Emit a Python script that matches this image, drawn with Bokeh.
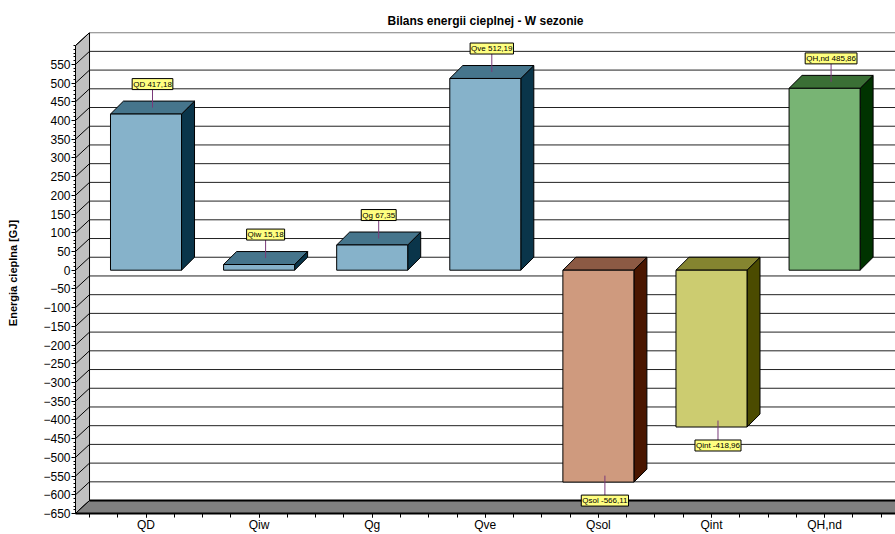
from bokeh.plotting import figure
from bokeh.models import FixedTicker, Label, Range1d, LinearAxis
from bokeh.embed import file_html
from bokeh.resources import INLINE

# ---------------- data ----------------
categories = ["QD", "Qiw", "Qg", "Qve", "Qsol", "Qint", "QH,nd"]
values = [417.18, 15.18, 67.35, 512.19, -566.11, -418.96, 485.86]
front_colors = ["#86b2ca", "#86b2ca", "#86b2ca", "#86b2ca", "#cf9a7e", "#cccc70", "#78b474"]
top_colors = ["#46758c", "#46758c", "#46758c", "#46758c", "#8c5a44", "#858530", "#3a6f35"]
side_colors = ["#0a354a", "#0a354a", "#0a354a", "#0a354a", "#4a1600", "#4b4b00", "#003300"]
y_ticks = list(range(-650, 551, 50))
y_lo, y_hi = -650, 600
title = "Bilans energii cieplnej - W sezonie"
y_title = "Energia cieplna [GJ]"

# ---------------- geometry (style) ----------------
X0, X1 = -0.6234, 6.627      # front plane extent (category units)
DX, DV = 0.124, 34.6         # wall depth offset
BX, BV = 0.115, 34.6         # bar depth offset
HW = 0.314                   # bar half width
FONT = "Liberation Sans"

p = figure(width=895, height=534, output_backend="svg", toolbar_location=None,
           x_range=Range1d(X0, X1), y_range=Range1d(-650, 635),
           min_border_left=75, min_border_right=0, min_border_top=32, min_border_bottom=19)
p.outline_line_color = None
p.xgrid.visible = False
p.ygrid.visible = False
p.background_fill_color = "white"
p.border_fill_color = "white"

p.title.text = title
p.title.align = "center"
p.title.text_font = FONT
p.title.text_font_size = "12px"
p.title.text_font_style = "bold"
p.title.text_color = "black"
p.title.offset = -10

# back wall grid lines
grid_vals = list(range(y_lo, y_hi + 1, 50))
p.segment(x0=[X0 + DX] * len(grid_vals), y0=[v + DV for v in grid_vals],
          x1=[X1 + 1] * len(grid_vals), y1=[v + DV for v in grid_vals],
          line_color="#222222", line_width=1)

# left wall
p.patch(x=[X0, X0, X0 + DX, X0 + DX], y=[y_lo, y_hi, y_hi + DV, y_lo + DV],
        fill_color="#c0c0c0", line_color="black", line_width=1)
p.segment(x0=[X0] * len(grid_vals), y0=grid_vals,
          x1=[X0 + DX] * len(grid_vals), y1=[v + DV for v in grid_vals],
          line_color="black", line_width=1)

# floor
p.patch(x=[X0, X1 + 1, X1 + 1 + DX, X0 + DX], y=[y_lo, y_lo, y_lo + DV, y_lo + DV],
        fill_color="#808080", line_color="black", line_width=1)
p.segment(x0=[X0 + DX], y0=[y_lo + DV], x1=[X1 + 1], y1=[y_lo + DV],
          line_color="black", line_width=2)

# bars
xs = list(range(len(categories)))
for i, v in zip(xs, values):
    b, t = min(0, v), max(0, v)
    p.patch(x=[i + HW, i + HW + BX, i + HW + BX, i + HW], y=[b, b + BV, t + BV, t],
            fill_color=side_colors[i], line_color="black", line_width=1)
    p.patch(x=[i - HW, i + HW, i + HW + BX, i - HW + BX], y=[t, t, t + BV, t + BV],
            fill_color=top_colors[i], line_color="black", line_width=1)
p.quad(left=[i - HW for i in xs], right=[i + HW for i in xs],
       bottom=[min(0, v) for v in values], top=[max(0, v) for v in values],
       fill_color=front_colors, line_color="black", line_width=1)

# callouts
for i, v in zip(xs, values):
    cx = i + BX / 2
    cy = v + BV / 2
    ly = cy + 48 if v >= 0 else cy - 52
    p.segment(x0=[cx], y0=[cy], x1=[cx], y1=[ly], line_color="#7a3a7a", line_width=1)
    txt = f"{categories[i]} {v:.2f}".replace(".", ",")
    p.add_layout(Label(x=cx, y=ly, text=txt, text_align="center",
                       text_baseline="bottom" if v >= 0 else "top",
                       text_font=FONT, text_font_size="8px", text_color="black",
                       background_fill_color="#ffff80", border_line_color="black",
                       border_line_width=1, padding=1))

# y axis
ya = p.yaxis[0]
ya.ticker = FixedTicker(ticks=y_ticks, minor_ticks=list(range(y_lo, y_hi + 1, 10)))
ya.bounds = (y_lo, y_hi)
ya.axis_line_color = "black"
ya.major_tick_out = 4
ya.major_tick_in = 0
ya.minor_tick_out = 2
ya.minor_tick_in = 0
ya.major_label_standoff = 1
ya.major_label_text_font = FONT
ya.major_label_text_font_size = "12px"
ya.major_label_text_color = "black"

# y axis title on an extra (otherwise invisible) axis
ax2 = LinearAxis(bounds=(-480, 600), axis_label=y_title, ticker=FixedTicker(ticks=[]),
                 axis_line_color=None, major_tick_line_color=None, minor_tick_line_color=None,
                 major_label_text_font_size="0px", axis_label_standoff=22,
                 axis_label_text_font=FONT, axis_label_text_font_size="11px",
                 axis_label_text_font_style="bold", axis_label_text_color="black")
p.add_layout(ax2, "left")

# x axis
xa = p.xaxis[0]
xa.ticker = FixedTicker(ticks=xs, minor_ticks=[k / 4 for k in range(-2, 4 * len(xs) - 1)])
xa.major_label_overrides = {i: c for i, c in zip(xs, categories)}
xa.axis_line_color = "black"
xa.axis_line_width = 2
xa.major_tick_out = 4
xa.major_tick_in = 0
xa.minor_tick_out = 4
xa.minor_tick_in = 0
xa.major_label_standoff = 0
xa.major_label_text_font = FONT
xa.major_label_text_font_size = "12px"
xa.major_label_text_color = "black"

open("out.html", "w").write(file_html(p, INLINE))
